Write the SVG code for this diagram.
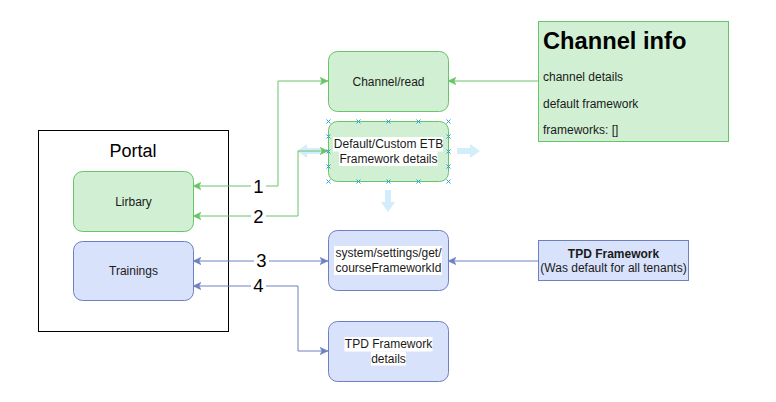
<svg xmlns="http://www.w3.org/2000/svg" width="776" height="402" viewBox="0 0 776 402">
<defs>
<style>
.t{font-family:"Liberation Sans",Arial,sans-serif;font-size:12px;fill:#1a1a1a}
.c{text-anchor:middle}
.g{fill:#d1f0d3;stroke:#69c469;stroke-width:1}
.b{fill:#d9e2fb;stroke:#6f80c2;stroke-width:1}
.lg{fill:none;stroke:#69c469;stroke-width:1}
.lb{fill:none;stroke:#6f80c2;stroke-width:1}
.num{font-family:"Liberation Sans",Arial,sans-serif;font-size:18.5px;fill:#000;text-anchor:middle}
.hx{stroke:#2aa2dd;stroke-width:1;fill:none}
.ha{fill:#d3edfa}
</style>
<marker id="ag" viewBox="0 0 8 8" refX="8" refY="4" markerWidth="8" markerHeight="8" markerUnits="userSpaceOnUse" orient="auto-start-reverse"><path d="M0,0.3 L8,4 L0,7.7 L2,4 z" fill="#69c469" stroke="#69c469" stroke-width="0.5"/></marker>
<marker id="ab" viewBox="0 0 8 8" refX="8" refY="4" markerWidth="8" markerHeight="8" markerUnits="userSpaceOnUse" orient="auto-start-reverse"><path d="M0,0.3 L8,4 L0,7.7 L2,4 z" fill="#6f80c2" stroke="#6f80c2" stroke-width="0.5"/></marker>
</defs>
<rect width="776" height="402" fill="#fff"/>

<g id="portal">
<rect x="38.5" y="130.5" width="190" height="201" fill="#fff" stroke="#000"/>
<text x="133" y="157" style="font-family:'Liberation Sans',Arial,sans-serif;font-size:18px" text-anchor="middle">Portal</text>
</g>

<g id="selection-hints">
<path class="ha" d="M297,151 L307,144 L307,148 L320,148 L320,154 L307,154 L307,158 z"/>
<path class="ha" d="M480,151 L470,144 L470,148 L457,148 L457,154 L470,154 L470,158 z"/>
<path class="ha" d="M388,212 L381,202 L385,202 L385,190 L391,190 L391,202 L395,202 z"/>
</g>

<g id="connectors">
<path class="lg" d="M193,186 L278,186 L278,81 L328,81" marker-start="url(#ag)" marker-end="url(#ag)"/>
<path class="lg" d="M193,216 L298,216 L298,151 L328,151" marker-start="url(#ag)" marker-end="url(#ag)"/>
<path class="lg" d="M538,81 L448,81" marker-end="url(#ag)"/>
<path class="lb" d="M193,261 L328,261" marker-start="url(#ab)" marker-end="url(#ab)"/>
<path class="lb" d="M193,286 L298,286 L298,351 L328,351" marker-start="url(#ab)" marker-end="url(#ab)"/>
<path class="lb" d="M538,261 L448,261" marker-end="url(#ab)"/>
<rect x="251" y="176" width="15" height="19" fill="#fff"/>
<text class="num" x="258.5" y="192.5">1</text>
<rect x="251" y="206" width="15" height="19" fill="#fff"/>
<text class="num" x="258.5" y="222.5">2</text>
<rect x="254" y="251" width="15" height="19" fill="#fff"/>
<text class="num" x="261.5" y="267">3</text>
<rect x="251" y="276" width="15" height="19" fill="#fff"/>
<text class="num" x="258.5" y="292">4</text>
</g>

<g id="lirbary">
<rect class="g" x="73.5" y="171.5" width="120" height="60" rx="9"/>
<text class="t c" x="133.5" y="205.5">Lirbary</text>
</g>

<g id="trainings">
<rect class="b" x="73.5" y="241.5" width="120" height="59" rx="9"/>
<text class="t c" x="133.5" y="275">Trainings</text>
</g>

<g id="channel-read">
<rect class="g" x="328.5" y="51.5" width="120" height="60" rx="9"/>
<text class="t c" x="388.5" y="85.5">Channel/read</text>
</g>

<g id="etb-framework">
<rect class="g" x="328.5" y="121.5" width="120" height="60" rx="9"/>
<rect x="333" y="137" width="110" height="14.5" fill="#fff"/>
<rect x="339" y="151.5" width="98.5" height="14.5" fill="#fff"/>
<text class="t c" x="388.5" y="148.2">Default/Custom ETB</text>
<text class="t c" x="388.5" y="162.6">Framework details</text>
</g>

<g id="etb-handles">
<path class="hx" d="M326.5,119.5l4,4m0,-4l-4,4 M356.5,119.5l4,4m0,-4l-4,4 M386.5,119.5l4,4m0,-4l-4,4 M416.5,119.5l4,4m0,-4l-4,4 M446.5,119.5l4,4m0,-4l-4,4 M326.5,179.5l4,4m0,-4l-4,4 M356.5,179.5l4,4m0,-4l-4,4 M386.5,179.5l4,4m0,-4l-4,4 M416.5,179.5l4,4m0,-4l-4,4 M446.5,179.5l4,4m0,-4l-4,4 M326.5,134.5l4,4m0,-4l-4,4 M326.5,149.5l4,4m0,-4l-4,4 M326.5,164.5l4,4m0,-4l-4,4 M446.5,134.5l4,4m0,-4l-4,4 M446.5,149.5l4,4m0,-4l-4,4 M446.5,164.5l4,4m0,-4l-4,4"/>
</g>

<g id="system-settings">
<rect class="b" x="328.5" y="230.5" width="120" height="60" rx="9"/>
<rect x="334" y="246" width="108" height="29" fill="#fff"/>
<text class="t c" x="388.5" y="257.2">system/settings/get/</text>
<text class="t c" x="388.5" y="271.6">courseFrameworkId</text>
</g>

<g id="tpd-details">
<rect class="b" x="328.5" y="321.5" width="120" height="60" rx="9"/>
<rect x="344.5" y="337" width="88" height="14.5" fill="#fff"/>
<rect x="371" y="351.5" width="35" height="14" fill="#fff"/>
<text class="t c" x="388.5" y="348.2">TPD Framework</text>
<text class="t c" x="388.5" y="362.6">details</text>
</g>

<g id="channel-info">
<rect x="538.5" y="21.5" width="190" height="120" fill="#d1f0d3" stroke="#69c469"/>
<text x="543" y="48.5" style="font-family:'Liberation Sans',Arial,sans-serif;font-size:23.7px;font-weight:bold">Channel info</text>
<text class="t" x="543" y="81">channel details</text>
<text class="t" x="543" y="107.5">default framework</text>
<text class="t" x="543" y="134">frameworks: []</text>
</g>

<g id="tpd-framework">
<rect class="b" x="538.5" y="240.5" width="150" height="40"/>
<text class="t c" x="613.5" y="258" style="font-weight:bold">TPD Framework</text>
<text class="t c" x="613.5" y="272.4">(Was default for all tenants)</text>
</g>
</svg>
